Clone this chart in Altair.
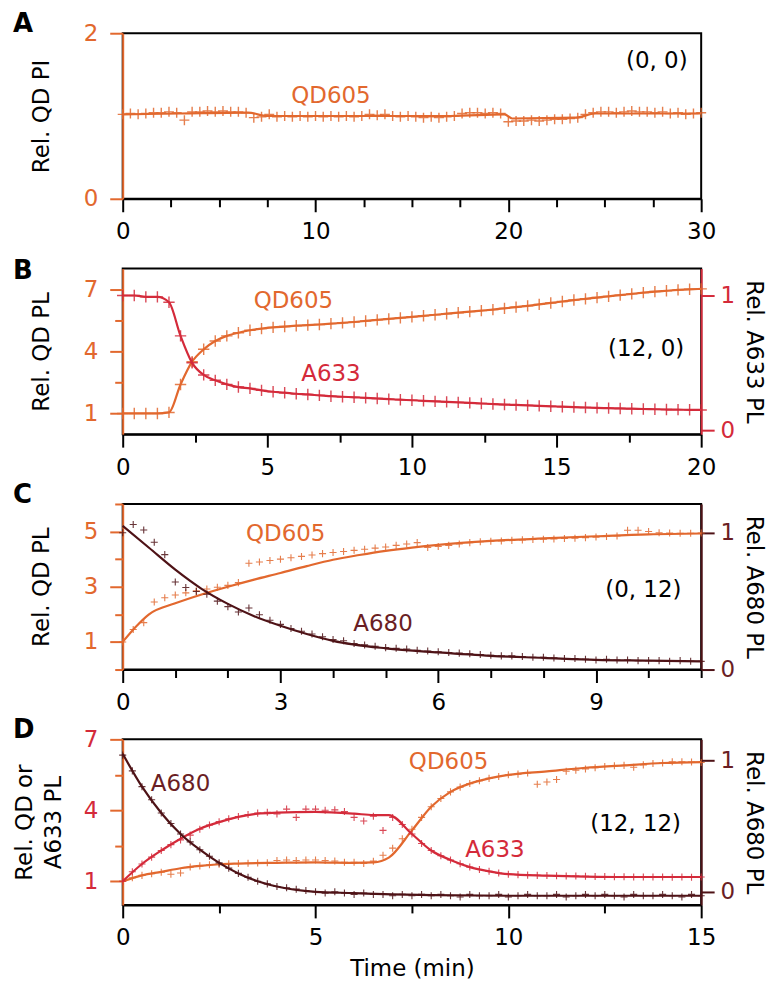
import altair as alt
import pandas as pd

FONT = "DejaVu Sans"
ORANGE = "#E2682E"
RED = "#D42A3A"
MAROON = "#4E1216"
MAROON_TXT = "#6A1E24"
CROSS = "M-1,0L1,0M0,-1L0,1"

# ---------------- Panel A : (0, 0) ----------------
a_time = [round(i * 0.4, 2) for i in range(76)]
a_qd605 = [1.02, 1.03, 1.02, 1.03, 1.04, 1.04, 1.05, 1.04, 0.95, 1.05,
           1.05, 1.06, 1.05, 1.06, 1.05, 1.05, 1.04, 0.98, 0.99, 1.02,
           0.99, 1.00, 0.99, 1.00, 0.99, 1.00, 0.99, 1.00, 0.99, 1.00,
           0.99, 1.00, 1.02, 1.01, 1.02, 1.00, 0.99, 1.00, 0.99, 0.98,
           0.99, 0.98, 0.99, 1.00, 1.03, 1.04, 1.04, 1.03, 1.04, 1.03,
           0.93, 0.94, 0.94, 0.95, 0.94, 0.95, 0.96, 0.96, 0.97, 0.98,
           1.02, 1.04, 1.05, 1.05, 1.04, 1.05, 1.06, 1.05, 1.05, 1.04,
           1.05, 1.03, 1.04, 1.02, 1.03, 1.04]
a_fit_time = [0, 3, 6.5, 7.5, 12, 17, 19.8, 20.2, 23.5, 24.5, 30]
a_fit_qd605 = [1.02, 1.03, 1.04, 1.0, 1.0, 1.0, 1.02, 0.97, 0.98, 1.03, 1.03]

# ---------------- Panel B : (12, 0) ----------------
b_time = [round(i * 0.4, 2) for i in range(51)]
b_qd605 = [1.0, 1.0, 1.0, 1.0, 1.05, 2.4, 3.5, 4.1, 4.5, 4.75,
           4.9, 5.02, 5.1, 5.16, 5.2, 5.24, 5.27, 5.3, 5.34, 5.38,
           5.42, 5.47, 5.52, 5.57, 5.62, 5.67, 5.72, 5.77, 5.82, 5.87,
           5.92, 5.97, 6.02, 6.08, 6.14, 6.2, 6.27, 6.34, 6.41, 6.48,
           6.54, 6.6, 6.66, 6.72, 6.78, 6.84, 6.89, 6.93, 6.97, 7.0, 7.02]
b_a633 = [1.0, 1.0, 0.99, 0.99, 0.95, 0.7, 0.5, 0.41, 0.37, 0.34,
          0.32, 0.31, 0.295, 0.285, 0.278, 0.27, 0.265, 0.258, 0.252, 0.248,
          0.244, 0.24, 0.235, 0.23, 0.226, 0.222, 0.218, 0.214, 0.21, 0.206,
          0.202, 0.198, 0.194, 0.19, 0.187, 0.184, 0.18, 0.177, 0.174, 0.171,
          0.168, 0.165, 0.163, 0.161, 0.159, 0.157, 0.155, 0.153, 0.152, 0.151, 0.15]

# ---------------- Panel C : (0, 12) ----------------
c_time = [round(i * 0.2, 2) for i in range(56)]
c_qd605 = [1.0, 1.45, 1.7, 2.45, 2.6, 2.7, 2.78, 2.85, 2.92, 2.98,
           3.05, 3.15, 3.85, 3.9, 3.95, 4.0, 4.05, 4.1, 4.15, 4.2,
           4.24, 4.28, 4.32, 4.36, 4.4, 4.44, 4.5, 4.55, 4.6, 4.42,
           4.46, 4.5, 4.55, 4.6, 4.63, 4.65, 4.66, 4.68, 4.7, 4.71,
           4.72, 4.73, 4.75, 4.76, 4.78, 4.8, 4.82, 4.84, 5.05, 5.05,
           5.0, 4.96, 4.95, 4.94, 4.94, 4.95]
c_a680 = [1.0, 1.06, 1.02, 0.93, 0.84, 0.64, 0.6, 0.57, 0.55, 0.5,
          0.46, 0.42, 0.45, 0.4, 0.36, 0.33, 0.3, 0.28, 0.26, 0.24,
          0.22, 0.21, 0.19, 0.18, 0.17, 0.16, 0.155, 0.15, 0.14, 0.135,
          0.13, 0.125, 0.12, 0.115, 0.11, 0.105, 0.1, 0.1, 0.095, 0.09,
          0.09, 0.085, 0.08, 0.08, 0.075, 0.07, 0.075, 0.07, 0.07, 0.065,
          0.065, 0.065, 0.06, 0.065, 0.06, 0.06]
c_fit_qd_time = [0, 0.25, 0.5, 1, 1.5, 2, 2.5, 3, 3.5, 4, 4.5, 5, 5.5, 6, 7, 8, 9, 10, 11]
c_fit_qd605 = [1.0, 1.55, 2.0, 2.4, 2.72, 3.0, 3.26, 3.5, 3.75, 3.98, 4.15, 4.3, 4.42,
               4.52, 4.66, 4.75, 4.83, 4.9, 4.93]
c_fit_a680_time = [0, 0.5, 1, 1.5, 2, 2.5, 3, 3.5, 4, 5, 6, 7, 8, 9, 10, 11]
c_fit_a680 = [1.05, 0.89, 0.73, 0.59, 0.48, 0.39, 0.32, 0.26, 0.21, 0.155, 0.125, 0.1,
              0.085, 0.07, 0.065, 0.06]

# ---------------- Panel D : (12, 12) ----------------
d_time = [round(i * 0.25, 2) for i in range(61)]
d_a680 = [1.04, 0.92, 0.8, 0.7, 0.6, 0.52, 0.44, 0.38, 0.32, 0.27,
          0.22, 0.18, 0.14, 0.11, 0.08, 0.06, 0.04, 0.03, 0.02, 0.01,
          0.0, -0.01, 0.0, -0.01, -0.02, -0.01, -0.02, -0.02, -0.03, -0.02,
          -0.03, -0.02, -0.03, -0.02, -0.03, -0.04, -0.02, -0.03, -0.03, -0.02,
          -0.04, -0.03, -0.02, -0.03, -0.03, -0.02, -0.04, -0.03, -0.02, -0.03,
          -0.02, -0.03, -0.04, -0.02, -0.03, -0.03, -0.02, -0.03, -0.04, -0.02, -0.03]
d_a633 = [1.0, 1.4, 1.73, 2.02, 2.3, 2.55, 2.75, 2.95, 3.2, 3.38,
          3.52, 3.64, 3.74, 3.82, 3.88, 3.92, 3.85, 4.05, 3.7, 4.05,
          4.05, 4.0, 4.02, 3.95, 3.7, 3.55, 3.75, 3.15, 3.7, 3.4,
          3.0, 2.6, 2.3, 2.08, 1.9, 1.74, 1.6, 1.5, 1.42, 1.35,
          1.3, 1.28, 1.26, 1.25, 1.24, 1.23, 1.22, 1.22, 1.21, 1.2,
          1.2, 1.19, 1.19, 1.18, 1.18, 1.18, 1.18, 1.17, 1.18, 1.17, 1.18]
d_qd605 = [1.0, 1.15, 1.25, 1.32, 1.38, 1.3, 1.35, 1.6, 1.65, 1.7,
           1.72, 1.74, 1.75, 1.76, 1.77, 1.78, 1.88, 1.9, 1.88, 1.9,
           1.9, 1.88, 1.86, 1.8, 1.8, 1.75, 1.85, 2.1, 2.4, 2.8,
           3.2, 3.7, 4.15, 4.5, 4.78, 4.98, 5.13, 5.25, 5.35, 5.43,
           5.5, 5.53, 5.58, 5.1, 5.2, 5.3, 5.65, 5.7, 5.75, 5.8,
           5.85, 5.88, 5.9, 5.82, 5.92, 5.98, 6.0, 6.05, 6.05, 6.04, 6.02]
d_fit_a680_time = [0, 0.5, 1, 1.5, 2, 2.5, 3, 3.5, 4, 5, 6, 7, 8, 10, 12, 15]
d_fit_a680 = [1.05, 0.8, 0.6, 0.44, 0.32, 0.22, 0.14, 0.08, 0.04, 0.0, -0.01, -0.02,
              -0.025, -0.03, -0.03, -0.03]
d_fit_a633_time = [0, 0.5, 1, 1.5, 2, 2.5, 3, 3.5, 4, 5, 6, 6.5, 6.9, 7.5, 8, 8.5, 9,
                   9.5, 10, 11, 12, 13, 15]
d_fit_a633 = [1.0, 1.73, 2.3, 2.8, 3.22, 3.5, 3.72, 3.86, 3.9, 3.93, 3.86, 3.8, 3.8,
              3.0, 2.3, 1.9, 1.6, 1.42, 1.3, 1.24, 1.2, 1.18, 1.18]
d_fit_qd_time = [0, 0.5, 1, 1.5, 2, 2.5, 3, 4, 5, 6, 6.5, 6.9, 7.5, 8, 8.5, 9, 9.5, 10,
                 11, 12, 13, 14, 15]
d_fit_qd605 = [1.0, 1.25, 1.4, 1.55, 1.65, 1.72, 1.75, 1.78, 1.8, 1.78, 1.8, 2.0, 3.15,
               4.15, 4.78, 5.13, 5.35, 5.5, 5.65, 5.8, 5.9, 6.0, 6.04]

# in-plot labels (text, time, left-axis value, colour)
a_labels = [("QD605", 10.8, 1.24, ORANGE), ("(0, 0)", 27.7, 1.66, "black")]
b_labels = [("QD605", 5.9, 6.45, ORANGE), ("A633", 7.2, 2.9, RED),
            ("(12, 0)", 18.1, 4.1, "black")]
c_labels = [("QD605", 3.1, 4.9, ORANGE), ("A680", 4.95, 1.65, MAROON_TXT),
            ("(0, 12)", 9.9, 2.9, "black")]
d_labels = [("A680", 1.5, 5.1, MAROON_TXT), ("QD605", 8.45, 6.05, ORANGE),
            ("A633", 9.65, 2.32, RED), ("(12, 12)", 13.3, 3.42, "black")]


def frame(t, v):
    return pd.DataFrame({"t": t, "v": v})


def major_test(major):
    return "indexof([" + ",".join(str(m) for m in major) + "], datum.value) >= 0"


def tick_size(major):
    return {"condition": {"test": major_test(major), "value": 13}, "value": 8}


def x_enc(xmax, values, major, title=None):
    kw = dict(values=values, labelExpr=major_test(major) + " ? datum.label : ''",
              format="d", tickSize=tick_size(major), tickColor="black", tickWidth=2,
              domainColor="black", domainWidth=2, labelColor="black", labelFont=FONT,
              labelFontSize=23, labelPadding=9, labelFlush=False, labelOverlap=False,
              grid=False)
    if title:
        kw.update(title=title, titleFont=FONT, titleFontSize=23, titleFontWeight="normal",
                  titleColor="black", titlePadding=8, labelPadding=9)
    else:
        kw["title"] = None
    return alt.X("t:Q", scale=alt.Scale(domain=[0, xmax], nice=False, zero=False),
                 axis=alt.Axis(**kw))


def y_enc(domain, values, major, title, line_col, lab_col, orient, title_pad, label_pad):
    ax = alt.Axis(values=values, orient=orient, labelExpr=major_test(major) + " ? datum.label : ''",
                  format="d", tickSize=tick_size(major), tickColor=line_col, tickWidth=2,
                  domainColor=line_col, domainWidth=2, labelColor=lab_col, labelFont=FONT,
                  labelFontSize=23, labelPadding=label_pad, labelFlush=False, labelOverlap=False,
                  grid=False, title=title, titleFont=FONT, titleFontSize=23,
                  titleFontWeight="normal", titleColor="black", titlePadding=title_pad,
                  titleLineHeight=29)
    return alt.Y("v:Q", scale=alt.Scale(domain=domain, nice=False, zero=False), axis=ax)


def series(t, v, fit_t, fit_v, color, x, y, size, sw):
    pts = alt.Chart(frame(t, v)).mark_point(
        shape=CROSS, filled=False, color=color, size=size, strokeWidth=sw, opacity=0.85
    ).encode(x=x, y=y)
    line = alt.Chart(frame(fit_t, fit_v)).mark_line(
        color=color, strokeWidth=2.2, interpolate="monotone"
    ).encode(x=x, y=y)
    return [pts, line]


def labels(rows, x, y):
    df = pd.DataFrame(rows, columns=["text", "t", "v", "color"])
    return alt.Chart(df).mark_text(font=FONT, fontSize=23, align="center",
                                   baseline="middle").encode(
        x=x, y=y, text="text:N", color=alt.Color("color:N", scale=None))


def letter(txt):
    return alt.TitleParams(txt, anchor="start", frame="group", font=FONT, fontSize=26,
                           fontWeight="bold", color="black", dx=-110, baseline="bottom",
                           offset=-41)


W, H = 580, 166

# Panel A
xa = x_enc(30, [i * 2.5 for i in range(13)], [0, 10, 20, 30])
ya = y_enc([0, 2], [0, 0.5, 1, 1.5, 2], [0, 1, 2], "Rel. QD PI", ORANGE, ORANGE, "left", 30, 12)
panel_a = alt.layer(
    *series(a_time, a_qd605, a_fit_time, a_fit_qd605, ORANGE, xa, ya, 100, 1.4),
    labels(a_labels, xa, ya),
).properties(width=W, height=H, title=letter("A"))

# Panel B
xb = x_enc(20, [i * 2.5 for i in range(9)], [0, 5, 10, 15, 20])
yb = y_enc([0, 8], [1, 2.5, 4, 5.5, 7], [1, 4, 7], "Rel. QD PL", ORANGE, ORANGE, "left", 30, 12)
yb2 = y_enc([-0.03, 1.2], [0, 0.25, 0.5, 0.75, 1], [0, 1], "Rel. A633 PL", RED, RED,
            "right", 7, 6)
left_b = alt.layer(*series(b_time, b_qd605, b_time, b_qd605, ORANGE, xb, yb, 130, 1.4),
                   labels(b_labels, xb, yb))
right_b = alt.layer(*series(b_time, b_a633, b_time, b_a633, RED, xb, yb2, 130, 1.4))
panel_b = alt.layer(left_b, right_b).resolve_scale(y="independent").properties(
    width=W, height=H, title=letter("B"))

# Panel C
xc = x_enc(11, list(range(12)), [0, 3, 6, 9])
yc = y_enc([0, 6], [0, 1, 2, 3, 4, 5, 6], [1, 3, 5], "Rel. QD PL", ORANGE, ORANGE, "left", 30, 12)
yc2 = y_enc([0, 1.21], [0, 0.25, 0.5, 0.75, 1], [0, 1], "Rel. A680 PL", MAROON, MAROON_TXT,
            "right", 7, 6)
left_c = alt.layer(*series(c_time, c_qd605, c_fit_qd_time, c_fit_qd605, ORANGE, xc, yc, 50, 1.1),
                   labels(c_labels, xc, yc))
right_c = alt.layer(*series(c_time, c_a680, c_fit_a680_time, c_fit_a680, MAROON, xc, yc2, 50, 1.1))
panel_c = alt.layer(left_c, right_c).resolve_scale(y="independent").properties(
    width=W, height=H, title=letter("C"))

# Panel D
xd = x_enc(15, [i * 2.5 for i in range(7)], [0, 5, 10, 15], title="Time (min)")
yd = y_enc([0, 7], [1, 2.5, 4, 5.5, 7], [1, 4, 7], ["Rel. QD or", "A633 PL"], ORANGE, RED,
           "left", 18, 12)
yd2 = y_enc([-0.1, 1.16], [0, 0.25, 0.5, 0.75, 1], [0, 1], "Rel. A680 PL", MAROON, MAROON_TXT,
            "right", 7, 6)
left_d = alt.layer(
    *series(d_time, d_qd605, d_fit_qd_time, d_fit_qd605, ORANGE, xd, yd, 50, 1.1),
    *series(d_time, d_a633, d_fit_a633_time, d_fit_a633, RED, xd, yd, 50, 1.1),
    labels(d_labels, xd, yd))
right_d = alt.layer(*series(d_time, d_a680, d_fit_a680_time, d_fit_a680, MAROON, xd, yd2, 50, 1.1))
panel_d = alt.layer(left_d, right_d).resolve_scale(y="independent").properties(
    width=W, height=H, title=letter("D"))

chart = alt.vconcat(panel_a, panel_b, panel_c, panel_d, spacing=70, bounds="flush").properties(
    padding={"left": 4, "top": 1, "right": 1, "bottom": 0}
).configure_view(stroke="black", strokeWidth=2)

chart.save("out.html", embed_options={"renderer": "svg", "actions": False})
